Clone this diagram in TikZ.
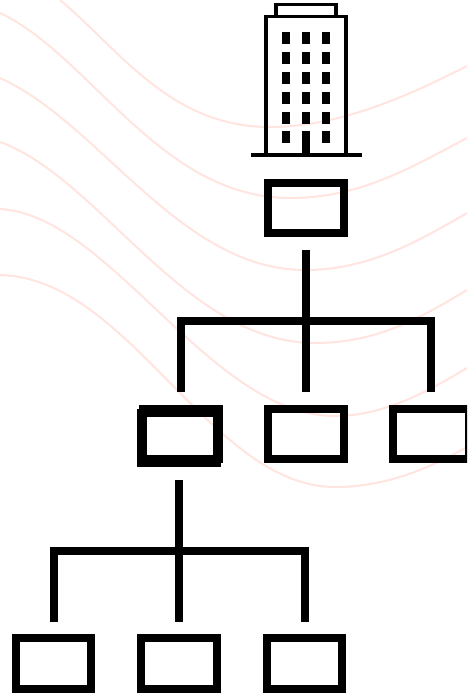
\documentclass[tikz,border=0pt]{standalone}
\usepackage{tikz}
\definecolor{wavepink}{RGB}{255,228,224}
\tikzset{
    orgbox/.style={draw=black, line width=8pt, minimum width=75.6pt, minimum height=50.6pt, inner sep=0pt, outer sep=0pt},
    orglink/.style={black, line width=8pt},
    wave/.style={wavepink, line width=2pt},
    storey/.style={fill=black}
}
\begin{document}
\begin{tikzpicture}[x=1pt,y=-1pt]
    \useasboundingbox (0,0) rectangle (467,695);
    \clip (0,0) rectangle (467,695);

    % background waves
    \draw[wave] (60,0) .. controls (120,50) and (170,127) .. (270,127) .. controls (340,127) and (410,95) .. (467,66);
    \draw[wave] (0,13) .. controls (90,55) and (160,198) .. (290,198) .. controls (360,198) and (410,168) .. (467,138);
    \draw[wave] (0,78) .. controls (100,123) and (180,270) .. (305,270) .. controls (370,270) and (420,240) .. (467,213);
    \draw[wave] (0,142) .. controls (100,178) and (185,343) .. (315,343) .. controls (380,343) and (425,315) .. (467,290);
    \draw[wave] (0,209) .. controls (110,215) and (210,416) .. (335,416) .. controls (385,416) and (430,390) .. (467,368);
    \draw[wave] (0,275) .. controls (130,278) and (210,487) .. (335,487) .. controls (390,487) and (435,465) .. (467,447);

    % building
    \draw[line width=3.7pt] (276,16.5) -- (276,4.4) -- (336,4.4) -- (336,16.5);
    \draw[line width=3.7pt] (266.3,155) -- (266.3,16.5) -- (345.8,16.5) -- (345.8,155);
    \draw[line width=4pt] (251,155) -- (361.5,155);
    \foreach \x in {286,306,326}
        \foreach \y in {38,58,78,98,118}
            \fill[storey] (\x-4,\y-6) rectangle (\x+4,\y+6);
    \fill[storey] (282,131) rectangle (290,143);
    \fill[storey] (322,131) rectangle (330,143);
    \fill[storey] (302,131) rectangle (310,155);

    % top level
    \node[orgbox] (head) at (306.2,208) {};
    \coordinate (starthead) at (306,250);
    \coordinate (headbus) at (306,321);

    % second level
    \node[orgbox] (mida) at (181,434) {};
    \node[orgbox] (midaback) at (179.2,438) {};
    \node[orgbox] (midb) at (306.2,434) {};
    \node[orgbox] (midc) at (431,434) {};
    \coordinate (busa) at (181,321);
    \coordinate (busc) at (431,321);
    \coordinate (enda) at (181,392);
    \coordinate (endb) at (306,392);
    \coordinate (endc) at (431,392);
    \draw[orglink] (starthead) -- (headbus);
    \draw[orglink] (enda) -- (busa) -- (busc) -- (endc);
    \draw[orglink] (headbus) -- (endb);

    % third level
    \node[orgbox] (lowa) at (53.5,663.7) {};
    \node[orgbox] (lowb) at (179,663.7) {};
    \node[orgbox] (lowc) at (304.5,663.7) {};
    \coordinate (startmid) at (179,480);
    \coordinate (midbus) at (179,551);
    \coordinate (lbusa) at (53.5,551);
    \coordinate (lbusc) at (305,551);
    \coordinate (lenda) at (53.5,622);
    \coordinate (lendb) at (179,622);
    \coordinate (lendc) at (305,622);
    \draw[orglink] (startmid) -- (midbus);
    \draw[orglink] (lenda) -- (lbusa) -- (lbusc) -- (lendc);
    \draw[orglink] (midbus) -- (lendb);
\end{tikzpicture}
\end{document}
